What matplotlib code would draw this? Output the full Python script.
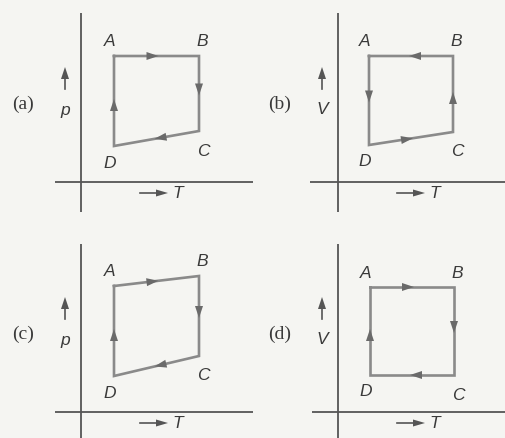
import matplotlib
matplotlib.use("Agg")
import matplotlib.pyplot as plt
import numpy as np

# ---- data (arbitrary units: T along x, p or V along y), points A, B, C, D ----
panel_tags = ["(a)", "(b)", "(c)", "(d)"]
y_quantity = ["p", "V", "p", "V"]
x_quantity = "T"
point_names = ["A", "B", "C", "D"]

T_a = [33, 118, 118, 33]
Y_a = [126, 126, 51, 36]
T_b = [31, 115, 115, 31]
Y_b = [126, 126, 50, 37]
T_c = [33, 118, 118, 33]
Y_c = [126, 136, 56, 36]
T_d = [32, 116, 116, 32]
Y_d = [125, 125, 37, 37]

# traversal order (indices into A, B, C, D)
order_a = [0, 1, 2, 3]
order_b = [0, 3, 2, 1]
order_c = [0, 1, 2, 3]
order_d = [0, 1, 2, 3]

T_all = [T_a, T_b, T_c, T_d]
Y_all = [Y_a, Y_b, Y_c, Y_d]
orders = [order_a, order_b, order_c, order_d]

# ---- layout (pixels) ----
W, H = 506, 438
# pixel box (x0, x1, y0, y1) and origin (ox, oy) of each panel
boxes = [(55, 253, 13, 212, 81, 182),
         (310, 506, 13, 212, 338, 182),
         (55, 253, 244, 438, 81, 412),
         (312, 506, 244, 438, 338, 412)]

bg = "#f5f5f2"
line_col = "#8a8a8a"
axis_col = "#555555"
text_col = "#3a3a3a"

fig = plt.figure(figsize=(W / 100, H / 100), dpi=100, facecolor=bg)

# label offsets (pixels) for A, B, C, D
lab_off = [(-4, 14), (3, 14), (4, -20), (-4, -17)]


def arrowhead(ax, tip, d, length=12, half=4.0, color=line_col):
    d = np.asarray(d, float)
    d = d / np.hypot(*d)
    n = np.array([-d[1], d[0]])
    tip = np.asarray(tip, float)
    base = tip - d * length
    pts = np.array([tip, base + n * half, base - n * half])
    ax.fill(pts[:, 0], pts[:, 1], color=color, lw=0, clip_on=False, zorder=3)


for k in range(4):
    x0, x1, y0, y1, ox, oy = boxes[k]
    ax = fig.add_axes([x0 / W, 1 - y1 / H, (x1 - x0) / W, (y1 - y0) / H])
    ax.set_xlim(x0 - ox, x1 - ox)
    ax.set_ylim(oy - y1, oy - y0)
    ax.axis("off")
    ax.patch.set_alpha(0)

    ax.axhline(0, color=axis_col, lw=1.3)
    ax.axvline(0, color=axis_col, lw=1.3)

    T = T_all[k]
    Y = Y_all[k]
    od = orders[k] + [orders[k][0]]
    ax.plot([T[i] for i in od], [Y[i] for i in od], color=line_col, lw=1.9,
            solid_joinstyle="miter", zorder=2)

    for a, b in zip(od[:-1], od[1:]):
        p0 = np.array([T[a], Y[a]], float)
        p1 = np.array([T[b], Y[b]], float)
        d = p1 - p0
        mid = (p0 + p1) / 2
        u = d / np.hypot(*d)
        arrowhead(ax, mid + u * 2, d, color="#6a6a6a")

    for i, name in enumerate(point_names):
        dx, dy = lab_off[i]
        ax.text(T[i] + dx, Y[i] + dy, name, fontsize=12.5, style="italic",
                family="Liberation Sans", color=text_col, ha="center",
                va="center", clip_on=False)

    # y quantity with upward arrow
    ylx = -16
    ax.plot([ylx, ylx], [93, 104], color="#555555", lw=1.2, clip_on=False)
    arrowhead(ax, (ylx, 115), (0, 1), length=12, half=4, color="#555555")
    ax.text(ylx, 72, y_quantity[k], fontsize=12.5, style="italic",
            family="Liberation Sans", color=text_col, ha="center",
            va="center", clip_on=False)

    # panel tag
    ax.text(-58, 78, panel_tags[k], fontsize=14,
            family="Liberation Serif", color=text_col, ha="center",
            va="center", clip_on=False)

    # x quantity with right arrow
    ay = -11
    ax.plot([59, 76], [ay, ay], color="#555555", lw=1.2, clip_on=False)
    arrowhead(ax, (87, ay), (1, 0), length=12, half=3.5, color="#555555")
    ax.text(97, ay, x_quantity, fontsize=12.5, style="italic",
            family="Liberation Sans", color=text_col, ha="center",
            va="center", clip_on=False)

fig.savefig("out.png", dpi=100, facecolor=bg)
